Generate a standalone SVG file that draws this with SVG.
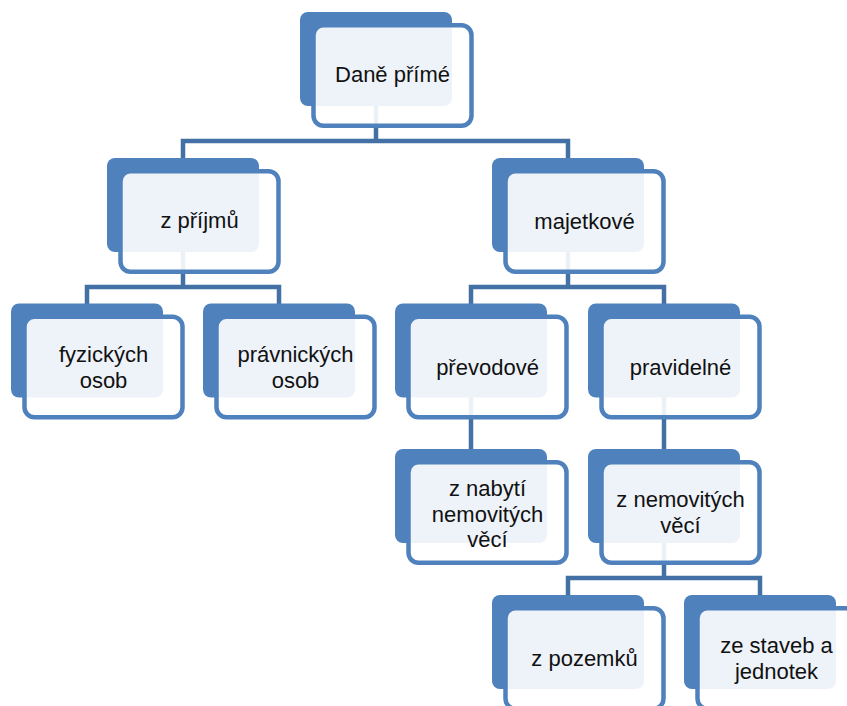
<svg xmlns="http://www.w3.org/2000/svg" width="847" height="706" viewBox="0 0 847 706">
<style>
.back{fill:#4F81BD;}
.front{fill:#FFFFFF;fill-opacity:0.9;stroke:#4F81BD;stroke-width:4.5;}
.conn{fill:none;stroke:#4471A5;stroke-width:4.5;}
text{font-family:"Liberation Sans",Arial,sans-serif;font-size:22px;fill:#111;text-anchor:middle;}
</style>
<rect width="847" height="706" fill="#FFFFFF"/>
<g id="connectors">
<path class="conn" d="M376 106 V141 M183 160 V141 H568 V160"/>
<path class="conn" d="M183 252 V287 M87 305 V287 H279 V305"/>
<path class="conn" d="M568 252 V287 M471 305 V287 H664 V305"/>
<path class="conn" d="M471 397 V451"/>
<path class="conn" d="M664 397 V451"/>
<path class="conn" d="M664 543 V578 M568 597 V578 H760 V597"/>
</g>
<g id="n-dane">
<rect class="back" x="300" y="12" width="152" height="94" rx="8"/>
<rect class="front" x="313.5" y="25.25" width="158" height="100.5" rx="10"/>
<text x="392.5" y="82">Daně přímé</text>
</g>
<g id="n-prijmu">
<rect class="back" x="107" y="158" width="152" height="94" rx="8"/>
<rect class="front" x="120.5" y="171.25" width="158" height="100.5" rx="10"/>
<text x="199.5" y="228">z příjmů</text>
</g>
<g id="n-majetkove">
<rect class="back" x="492" y="158" width="152" height="94" rx="8"/>
<rect class="front" x="505.5" y="171.25" width="158" height="100.5" rx="10"/>
<text x="584.5" y="229">majetkové</text>
</g>
<g id="n-fyzickych">
<rect class="back" x="11" y="303.5" width="152" height="94" rx="8"/>
<rect class="front" x="24.5" y="316.75" width="158" height="100.5" rx="10"/>
<text x="103.5" y="362">fyzických</text>
<text x="103.5" y="388">osob</text>
</g>
<g id="n-pravnickych">
<rect class="back" x="203" y="303.5" width="152" height="94" rx="8"/>
<rect class="front" x="216.5" y="316.75" width="158" height="100.5" rx="10"/>
<text x="295.5" y="362">právnických</text>
<text x="295.5" y="388">osob</text>
</g>
<g id="n-prevodove">
<rect class="back" x="395" y="303.5" width="152" height="94" rx="8"/>
<rect class="front" x="408.5" y="316.75" width="158" height="100.5" rx="10"/>
<text x="487.5" y="375">převodové</text>
</g>
<g id="n-pravidelne">
<rect class="back" x="588" y="303.5" width="152" height="94" rx="8"/>
<rect class="front" x="601.5" y="316.75" width="158" height="100.5" rx="10"/>
<text x="680.5" y="375">pravidelné</text>
</g>
<g id="n-nabyti">
<rect class="back" x="395" y="449" width="152" height="94" rx="8"/>
<rect class="front" x="408.5" y="462.25" width="158" height="100.5" rx="10"/>
<text x="487.5" y="496">z nabytí</text>
<text x="487.5" y="521.5">nemovitých</text>
<text x="487.5" y="547">věcí</text>
</g>
<g id="n-nemovitych">
<rect class="back" x="588" y="449" width="152" height="94" rx="8"/>
<rect class="front" x="601.5" y="462.25" width="158" height="100.5" rx="10"/>
<text x="680.5" y="507">z nemovitých</text>
<text x="680.5" y="533">věcí</text>
</g>
<g id="n-pozemku">
<rect class="back" x="492" y="595" width="152" height="94" rx="8"/>
<rect class="front" x="505.5" y="608.25" width="158" height="100.5" rx="10"/>
<text x="584.5" y="666">z pozemků</text>
</g>
<g id="n-staveb">
<rect class="back" x="684" y="595" width="152" height="94" rx="8"/>
<rect class="front" x="697.5" y="608.25" width="158" height="100.5" rx="10"/>
<text x="776.5" y="653">ze staveb a</text>
<text x="776.5" y="679">jednotek</text>
</g>
</svg>
